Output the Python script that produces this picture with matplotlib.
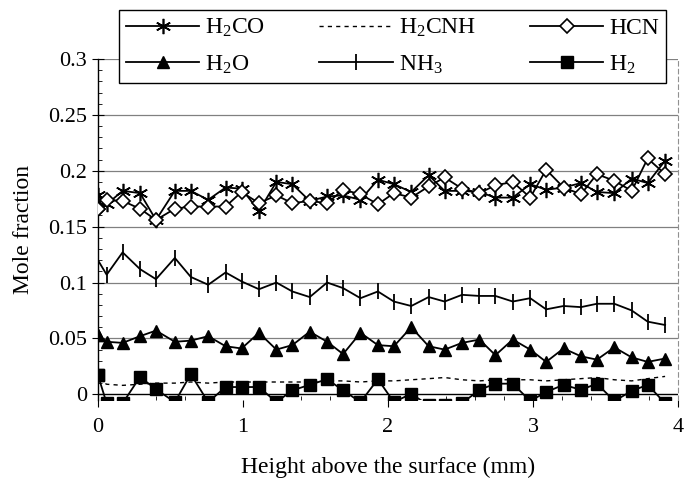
import numpy as np
import matplotlib
matplotlib.use("Agg")
import matplotlib.pyplot as plt
from matplotlib.ticker import MultipleLocator

# --------------------------
# data
# --------------------------
height_mm = [0.00, 0.00, 0.06, 0.17, 0.29, 0.40, 0.53, 0.64, 0.76, 0.88, 0.99,
             1.11, 1.23, 1.34, 1.46, 1.58, 1.69, 1.81, 1.93, 2.04, 2.16,
             2.28, 2.39, 2.51, 2.63, 2.74, 2.86, 2.98, 3.09, 3.21, 3.33,
             3.44, 3.56, 3.68, 3.79, 3.91]

h2co = [0.172, 0.178, 0.170, 0.182, 0.180, 0.156, 0.182, 0.182, 0.174, 0.185, 0.184,
        0.164, 0.190, 0.188, 0.173, 0.177, 0.178, 0.174, 0.192, 0.188, 0.181,
        0.196, 0.182, 0.182, 0.181, 0.176, 0.176, 0.188, 0.183, 0.185, 0.189,
        0.181, 0.180, 0.193, 0.189, 0.209]

h2cnh = [0.013, 0.013, 0.009, 0.008, 0.009, 0.010, 0.010, 0.011, 0.010, 0.011, 0.011,
         0.011, 0.011, 0.011, 0.011, 0.012, 0.012, 0.011, 0.012, 0.012, 0.013,
         0.014, 0.015, 0.013, 0.012, 0.013, 0.013, 0.013, 0.012, 0.013, 0.014,
         0.015, 0.013, 0.012, 0.014, 0.016]

hcn = [0.166, 0.166, 0.174, 0.173, 0.166, 0.156, 0.166, 0.168, 0.168, 0.168, 0.181,
       0.171, 0.178, 0.171, 0.173, 0.171, 0.183, 0.179, 0.170, 0.180, 0.176,
       0.186, 0.194, 0.184, 0.180, 0.187, 0.190, 0.176, 0.201, 0.185, 0.179,
       0.197, 0.191, 0.182, 0.211, 0.197]

h2o = [0.053, 0.053, 0.047, 0.046, 0.052, 0.057, 0.047, 0.048, 0.052, 0.043, 0.041,
       0.055, 0.040, 0.044, 0.056, 0.047, 0.036, 0.055, 0.044, 0.043, 0.060,
       0.043, 0.040, 0.046, 0.049, 0.035, 0.049, 0.040, 0.029, 0.041, 0.034,
       0.031, 0.042, 0.033, 0.029, 0.032]

nh3 = [0.098, 0.120, 0.107, 0.127, 0.112, 0.103, 0.122, 0.105, 0.098, 0.109, 0.101,
       0.094, 0.100, 0.092, 0.087, 0.100, 0.095, 0.086, 0.092, 0.083, 0.079,
       0.087, 0.083, 0.089, 0.088, 0.088, 0.083, 0.086, 0.076, 0.079, 0.078,
       0.081, 0.081, 0.075, 0.065, 0.062]

h2 = [0.017, 0.017, -0.008, -0.008, 0.0155, 0.0045, -0.007, 0.018, -0.007, 0.0065, 0.0065,
      0.0065, -0.007, 0.0035, 0.0085, 0.0135, 0.0035, -0.007, 0.0135, -0.007, 0.0005,
      -0.010, -0.010, -0.008, 0.004, 0.0095, 0.0095, -0.006, 0.002, 0.0085, 0.004,
      0.0095, -0.006, 0.003, 0.0085, -0.008]

x_ticks = [0, 1, 2, 3, 4]
y_ticks = [0, 0.05, 0.1, 0.15, 0.2, 0.25, 0.3]
y_tick_labels = ["0", "0.05", "0.1", "0.15", "0.2", "0.25", "0.3"]

# --------------------------
# style
# --------------------------
plt.rcParams["font.family"] = ["Liberation Serif", "DejaVu Serif"]
plt.rcParams["mathtext.fontset"] = "custom"
plt.rcParams["mathtext.rm"] = "Liberation Serif"
plt.rcParams["mathtext.it"] = "Liberation Serif:italic"

fs = 16
fs_label = 17
fs_legend = 17
lw = 1.3

fig = plt.figure(figsize=(6.85, 4.8), dpi=100)
ax = fig.add_axes([0.143, 0.1669, 0.847, 0.7102])

ax.set_xlim(0, 4)
ax.set_ylim(-0.005, 0.3)

for yv in y_ticks[1:]:
    ax.axhline(yv, color="#808080", lw=0.9, zorder=1)
ax.axhline(0, color="black", lw=1.0, zorder=1)

ax.plot(height_mm, h2co, color="black", lw=lw, marker=(6, 2, 0), ms=11, mew=1.2,
        label=r"H$_2$CO", zorder=3)
ax.plot(height_mm, h2o, color="black", lw=lw, marker="^", ms=8,
        label=r"H$_2$O", zorder=3)
ax.plot(height_mm, h2cnh, color="black", lw=1.0, ls=(0, (3, 3)),
        label=r"H$_2$CNH", zorder=2)
ax.plot(height_mm, nh3, color="black", lw=lw, marker="|", ms=11, mew=1.3,
        label=r"NH$_3$", zorder=3)
ax.plot(height_mm, hcn, color="black", lw=lw, marker="D", ms=7, mfc="white",
        mew=1.2, label="HCN", zorder=4)
ax.plot(height_mm, h2, color="black", lw=lw, marker="s", ms=8,
        label=r"H$_2$", zorder=3)

# axes
ax.spines["top"].set_visible(False)
ax.spines["bottom"].set_visible(False)
ax.spines["right"].set_color("#909090")
ax.spines["right"].set_linestyle((0, (4, 3)))
ax.spines["right"].set_linewidth(0.8)
ax.spines["left"].set_linewidth(1.0)

ax.set_xticks(x_ticks)
ax.xaxis.set_minor_locator(MultipleLocator(0.2))
ax.set_yticks(y_ticks)
ax.set_yticklabels(y_tick_labels)
ax.yaxis.set_minor_locator(MultipleLocator(0.01))
ax.tick_params(axis="y", which="major", direction="inout", length=8, width=0.8,
               labelsize=fs, pad=4)
ax.tick_params(axis="y", which="minor", direction="in", length=3, width=0.6)
ax.tick_params(axis="x", which="major", direction="out", length=5, width=0.8,
               labelsize=fs, pad=8)
ax.tick_params(axis="x", which="minor", direction="in", length=3, width=0.6)

ax.set_xlabel("Height above the surface (mm)", fontsize=fs_label, labelpad=14)
ax.set_ylabel("Mole fraction", fontsize=fs_label, labelpad=10)

leg = ax.legend(loc="upper center", bbox_to_anchor=(0.573, 0.979),
                bbox_transform=fig.transFigure, borderaxespad=0, ncol=3,
                fontsize=fs_legend, frameon=True, fancybox=False,
                edgecolor="black", framealpha=1, handlelength=3.1,
                columnspacing=2.3, handletextpad=0.25, borderpad=0.3,
                labelspacing=0.6)
leg.get_frame().set_linewidth(1.0)

fig.savefig("out.png", dpi=100)
